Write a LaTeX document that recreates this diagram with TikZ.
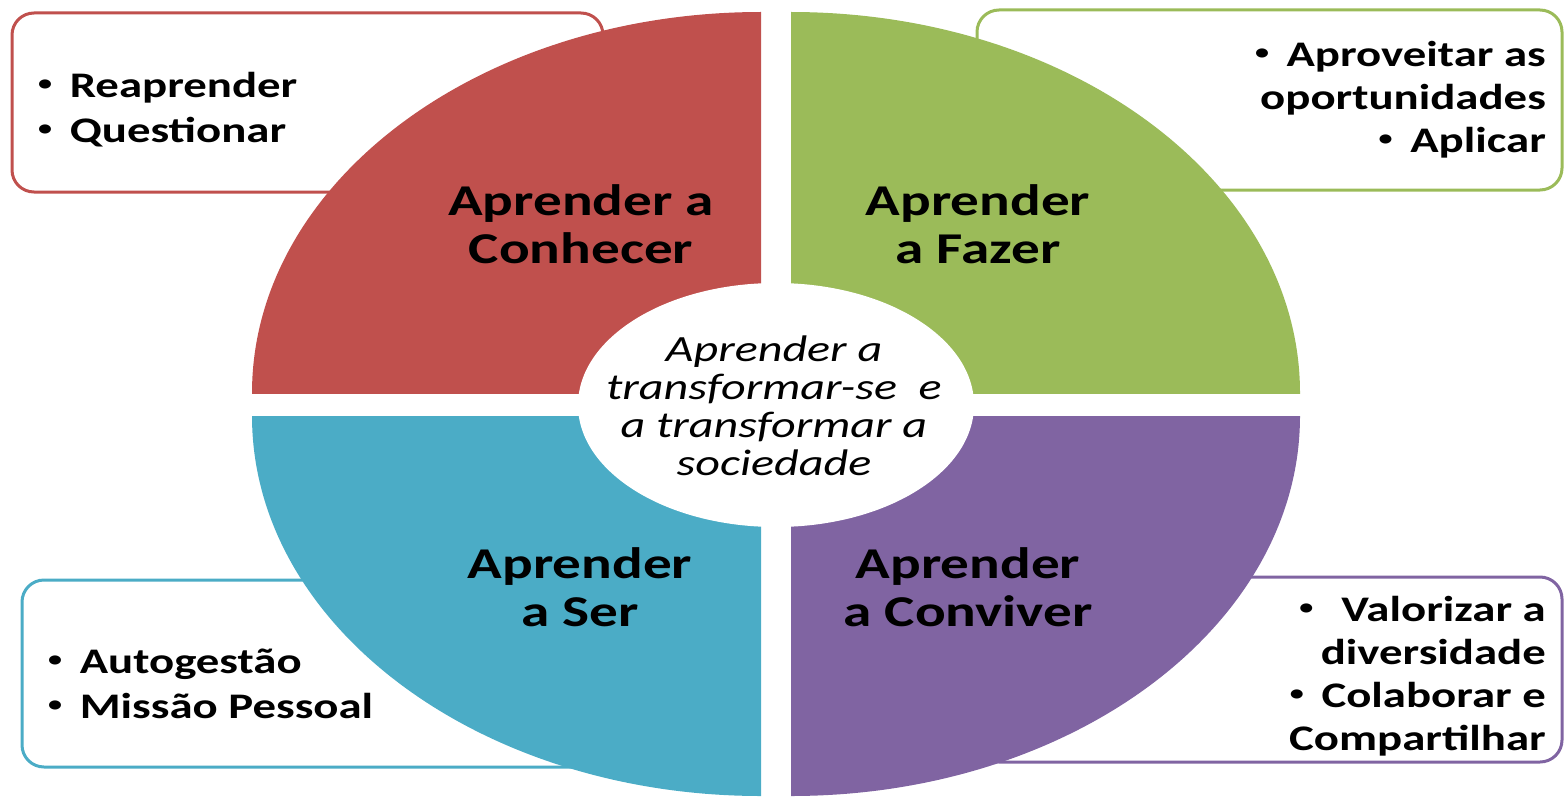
\documentclass[tikz,border=0pt]{standalone}
\usepackage{fontspec}
\setmainfont{Carlito}[FakeStretch=1.3]
\usetikzlibrary{positioning}
\definecolor{knowred}{HTML}{C0504D}
\definecolor{dogreen}{HTML}{9BBB59}
\definecolor{beblue}{HTML}{4BACC6}
\definecolor{livepurple}{HTML}{8064A2}
\newcommand{\itemdot}{\raisebox{.2em}{\scalebox{.6}{\textbullet}}\hspace{7pt}}
\tikzset{
  listbox/.style={line width=3pt, rounded corners=22pt, fill=white},
  pillar/.style={font=\fontsize{44}{48}\selectfont\bfseries, align=center, inner sep=0pt},
  itemlist/.style={font=\fontsize{36}{45}\selectfont\bfseries, inner sep=0pt},
}
\begin{document}
\begin{tikzpicture}[x=1pt,y=-1pt]
\useasboundingbox (0,0) rectangle (1565,797);
% boxes behind the pie
\draw[listbox, draw=knowred] (12,13) rectangle (603,192);
\draw[listbox, draw=dogreen] (977,10) rectangle (1562,190);
\draw[listbox, draw=beblue] (22,580) rectangle (600,767);
\draw[listbox, draw=livepurple] (977,577) rectangle (1562,762);
% quarters
\begin{scope}
\clip (252,0) rectangle (761,393);
\fill[knowred] (761,393) ellipse [x radius=509, y radius=381];
\end{scope}
\begin{scope}
\clip (791,0) rectangle (1310,393);
\fill[dogreen] (791,393) ellipse [x radius=509, y radius=381];
\end{scope}
\begin{scope}
\clip (240,416) rectangle (761,797);
\fill[beblue] (761,416) ellipse [x radius=509, y radius=380];
\end{scope}
\begin{scope}
\clip (791,416) rectangle (1310,797);
\fill[livepurple] (791,416) ellipse [x radius=509, y radius=380];
\end{scope}
\fill[white] (776,405) ellipse [x radius=198, y radius=122];
% texts
\node[pillar] (knowtitle) at (581,224) {Aprender a\\Conhecer};
\node[pillar] (dotitle) at (978,224) {Aprender\\a Fazer};
\node[pillar] (betitle) at (580,587) {Aprender\\a Ser};
\node[pillar] (livetitle) at (968,587) {Aprender\\a Conviver};
\node[font=\fontsize{37}{38}\selectfont\itshape, align=center, inner sep=0pt] (core) at (774,406)
  {Aprender a\\transformar-se~ e\\a transformar a\\sociedade};
\node[itemlist, align=left, anchor=west] (knowlist) at (38,110)
  {\itemdot{} Reaprender\\\itemdot{} Questionar};
\node[itemlist, align=right, anchor=east, font=\fontsize{36}{43}\selectfont\bfseries] (dolist) at (1546,100)
  {\itemdot{} Aproveitar as\\oportunidades\\\itemdot{} Aplicar};
\node[itemlist, align=left, anchor=west] (belist) at (48,684)
  {\itemdot{} Autogestão\\\itemdot{} Missão Pessoal};
\node[itemlist, align=right, anchor=east, font=\fontsize{36}{43}\selectfont\bfseries] (livelist) at (1546,676)
  {\itemdot~ Valorizar a\\diversidade\\\itemdot{} Colaborar e\\Compartilhar};
\end{tikzpicture}
\end{document}
